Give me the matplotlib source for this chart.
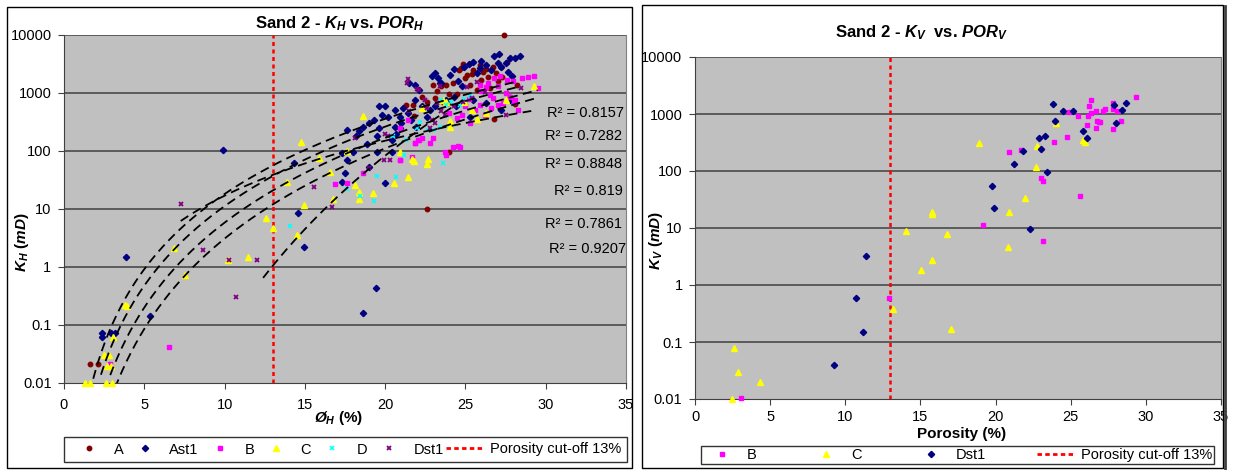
import numpy as np
import matplotlib
matplotlib.use('Agg')
import matplotlib.pyplot as plt
from matplotlib.lines import Line2D
from matplotlib.patches import Rectangle
from matplotlib.ticker import FixedLocator, FixedFormatter, NullLocator

plt.rcParams['font.family'] = 'Liberation Sans'
plt.rcParams['mathtext.fontset'] = 'custom'
plt.rcParams['mathtext.rm'] = 'Liberation Sans:bold'
plt.rcParams['mathtext.it'] = 'Liberation Sans:bold:italic'
plt.rcParams['mathtext.bf'] = 'Liberation Sans:bold'

# ---------------- left chart: K_H vs POR_H ----------------
a_x = [1.6, 2.1, 21.3, 21.8, 22.3, 22.6, 22.6, 23.0, 23.1, 23.5, 23.6, 23.8, 23.9, 24.0, 24.2,
       24.45, 24.6, 24.7, 24.86, 25.0, 25.1, 25.3, 25.5, 25.7, 25.9, 26.0, 26.1, 26.3, 26.5, 26.7,
       26.8, 26.9, 27.0, 27.2, 27.3, 27.4, 27.6, 27.8, 28.1, 28.2, 24.0, 21.75, 23.2, 25.4, 26.4]
a_k = [0.021, 0.021, 620, 400, 850, 700, 10.2, 1380, 820, 1300, 700, 1380, 680, 98, 1500,
       980, 2500, 2700, 3160, 1800, 2050, 1380, 2500, 1120, 3000, 1660, 2300, 2570, 1200, 2800,
       360, 2200, 1600, 2800, 1900, 10000, 3460, 850, 650, 1350, 950, 620, 1100, 2100, 1900]

ast_x = [2.34, 2.34, 2.93, 3.18, 3.87, 5.34, 9.9, 14.3, 14.6, 14.95, 17.3, 17.5, 18.6, 19.4, 20.0,
         17.3, 17.6, 18.2, 18.4, 18.6, 19.0, 19.3, 19.5, 19.6, 20.0, 20.2, 20.4, 20.6, 20.9, 21.1,
         21.4, 21.6, 21.85, 22.1, 21.5, 21.85, 23.1, 23.3, 23.45, 24.05, 24.55, 24.9, 25.5, 25.9, 26.3,
         26.8, 27.1, 27.2, 27.5, 27.65, 27.8, 28.4, 25.5, 25.3, 26.3, 27.2, 27.8, 19.0, 19.5, 17.6,
         19.6, 20.6, 20.4, 21.9, 22.6, 22.8, 23.1, 23.8, 24.3, 24.4,
         22.9, 23.4, 24.3, 24.8, 25.2, 25.7, 26.0, 26.6, 27.0, 27.9, 28.1, 21.0, 20.7, 18.9, 18.0,
         19.8, 20.9, 22.3]
ast_k = [0.073, 0.063, 0.073, 0.073, 1.5, 0.145, 105, 62, 8.5, 2.2, 29, 41, 0.16, 0.43, 28,
         91, 71, 178, 218, 263, 302, 347, 178, 245, 589, 390, 155, 513, 390, 550,
         447, 347, 760, 1120, 1480, 1400, 2190, 1780, 1480, 2040, 1580, 2820, 3470, 2690, 3020,
         4270, 4790, 2820, 3240, 2340, 3980, 4370, 760, 390, 660, 510, 760, 54, 98, 229,
         589, 263, 98, 263, 390, 513, 589, 760, 870, 589,
         2000, 1500, 2600, 1300, 3200, 2200, 3600, 2500, 3300, 2000, 4000, 300, 200, 130, 95,
         420, 250, 600]

b_x = [2.88, 6.53, 16.9, 17.65, 18.6, 20.9, 21.85, 21.7, 26.8, 27.15, 27.6, 27.96, 28.5, 28.9, 29.3,
       29.5, 25.9, 26.3, 26.5, 26.7, 27.0, 25.9, 25.6, 26.2, 26.6, 27.35, 27.8, 28.1, 28.3, 24.45,
       24.8, 25.3, 23.0, 22.3, 22.05, 20.9, 21.4, 21.85, 24.2, 24.65, 23.7, 23.8, 20.9, 24.55, 22.8,
       22.1, 25.2, 26.0, 27.0, 27.5, 28.0, 26.4, 25.0, 24.0]
b_k = [0.021, 0.042, 27, 28, 42, 70, 135, 80, 1820, 1950, 1660, 1620, 1820, 1900, 1950,
       1230, 1380, 1290, 930, 830, 620, 620, 510, 420, 550, 680, 870, 760, 510, 370,
       420, 300, 166, 166, 155, 250, 340, 138, 117, 117, 98, 85, 71, 120, 135,
       155, 800, 1100, 1300, 1000, 700, 1500, 600, 450]

c_x = [1.28, 1.6, 2.59, 3.0, 2.5, 2.83, 2.68, 2.93, 3.08, 3.82, 6.87, 7.56, 10.2, 11.45, 12.6,
       13.0, 13.9, 14.75, 14.5, 14.95, 15.9, 16.55, 16.75, 17.6, 18.35, 18.4, 18.15, 18.65, 19.26, 20.57,
       20.9, 21.4, 21.65, 21.8, 22.6, 22.7, 22.3, 23.6, 23.8, 24.05, 24.05, 24.9, 25.7, 26.3, 29.25,
       27.5, 25.4, 3.9]
c_k = [0.01, 0.01, 0.01, 0.01, 0.031, 0.031, 0.02, 0.02, 0.063, 0.22, 2.1, 0.74, 1.3, 1.5, 6.9,
       4.7, 29, 141, 3.6, 11.8, 76, 43, 15, 102, 15, 20, 26, 400, 19, 28,
       96, 36, 72, 66, 60, 74, 550, 760, 710, 263, 324, 710, 363, 450, 1320,
       760, 510, 0.21]

d_x = [14.1, 17.65, 18.45, 19.3, 19.5, 20.7, 21.2, 23.6, 21.3, 22.7, 23.0, 23.4, 23.8, 24.1, 23.5,
       24.65, 22.2, 24.9, 25.3, 22.0, 20.5]
d_k = [5.0, 22, 17, 13.5, 37, 35, 85, 61, 155, 230, 230, 263, 617, 710, 760,
       617, 320, 800, 900, 250, 180]

dst_x = [7.27, 8.67, 10.7, 12.0, 10.3, 15.57, 16.7, 18.1, 19.0, 19.9, 20.3, 21.4, 21.35, 22.0, 22.5,
         23.4, 27.5, 28.45, 22.1, 23.2, 22.6, 23.5, 22.9, 23.1, 23.7, 20.2, 20.0, 25.1, 25.7, 26.2,
         24.85, 25.4, 21.5, 22.8, 24.3]
dst_k = [12, 2.0, 0.30, 1.3, 1.3, 23.5, 10.7, 166, 50, 69, 71, 1740, 1480, 1150, 760,
         1320, 415, 1200, 1120, 660, 550, 480, 340, 300, 420, 178, 195, 1290, 1550, 1050,
         710, 810, 480, 250, 600]

trend_lo = [1.6, 2.3, 2.88, 1.28, 12.4, 7.27]
trend_x0 = [1.75, 2.14, 2.7, 3.3, 12.4, 7.3]
trend_k0 = [0.01, 0.01, 0.01, 0.01, 0.65, 6.3]
trend_x1 = [28.3, 28.4, 29.5, 29.3, 25.0, 29.1]
trend_k1 = [1600, 1300, 1120, 800, 800, 490]

r2_text = ['0.8157', '0.7282', '0.8848', '0.819', '0.7861', '0.9207']
r2_x = [30.05, 29.95, 29.95, 30.5, 29.95, 30.2]
r2_k = [450, 182, 60, 20.4, 5.5, 2.05]

# ---------------- right chart: K_V vs POR_V ----------------
vb_x = [3.03, 12.9, 19.16, 20.9, 21.7, 23.05, 23.16, 23.16, 23.86, 24.78, 24.9, 25.46, 25.64, 26.06, 26.16,
        26.2, 26.32, 26.35, 26.68, 26.68, 26.76, 26.9, 26.97, 27.18, 27.28, 27.83, 27.83, 27.83, 28.07, 28.33,
        29.37]
vb_k = [0.0105, 0.6, 11.2, 219, 229, 74, 66, 5.8, 324, 389, 1070, 933, 37, 646, 930,
        1380, 1050, 1740, 575, 1150, 741, 720, 720, 1150, 1200, 550, 1550, 1200, 1120, 760,
        1950]

vc_x = [2.48, 2.61, 2.87, 4.31, 13.16, 14.02, 15.07, 15.8, 15.8, 15.8, 16.74, 17.02, 18.93, 20.8, 20.91,
        21.96, 22.7, 22.77, 24.05, 25.8, 25.95]
vc_k = [0.01, 0.079, 0.03, 0.02, 0.38, 8.9, 1.8, 19, 17.8, 2.8, 7.9, 0.17, 309, 4.7, 19,
        33, 118, 280, 690, 356, 325]

vd_x = [9.22, 10.68, 11.2, 11.38, 19.74, 19.9, 21.23, 21.8, 22.3, 22.9, 23.0, 23.29, 23.42, 23.8, 23.94,
        24.5, 25.14, 25.82, 26.1, 27.9, 28.0, 28.4, 28.67]
vd_k = [0.04, 0.58, 0.15, 3.2, 55, 22.6, 135, 223, 9.8, 373, 244, 414, 98, 1520, 745,
        1150, 1150, 513, 373, 1410, 695, 1175, 1580]

cutoff = 13
yt = [0.01, 0.1, 1, 10, 100, 1000, 10000]
yt_labels = ['0.01', '0.1', '1', '10', '100', '1000', '10000']

W, H = 1235, 470
fig = plt.figure(figsize=(W / 100, H / 100), dpi=100)


def fx(px):
    return px / W


def fy(py):
    return 1 - py / H


ax1 = fig.add_axes([fx(64), fy(383), fx(626) - fx(64), fy(35) - fy(383)])
ax2 = fig.add_axes([fx(695), fy(399), fx(1221) - fx(695), fy(57) - fy(399)])


def style(ax, xpad):
    ax.set_facecolor('#C0C0C0')
    ax.set_yscale('log')
    ax.set_xlim(0, 35)
    ax.set_ylim(0.01, 10000)
    ax.yaxis.set_major_locator(FixedLocator(yt))
    ax.yaxis.set_major_formatter(FixedFormatter(yt_labels))
    ax.yaxis.set_minor_locator(NullLocator())
    ax.set_xticks(range(0, 36, 5))
    for y in yt[1:]:
        ax.axhline(y, color='#404040', lw=1.1, zorder=1)
    ax.spines['top'].set_visible(False)
    ax.spines['right'].set_color('#808080')
    ax.spines['left'].set_color('#404040')
    ax.spines['bottom'].set_color('#404040')
    ax.tick_params(axis='y', direction='out', length=4, color='#404040', labelsize=10.5, pad=5)
    ax.tick_params(axis='x', direction='out', length=4, color='#404040', labelsize=10.5, pad=xpad)
    ax.axvline(cutoff, color='red', ls=(0, (1.6, 1.4)), lw=1.8, zorder=3)


style(ax1, 7)
style(ax2, 4)

ms = 3.2
ax1.plot(a_x, a_k, ls='none', marker='o', color='#800000', ms=ms, clip_on=False, zorder=4)
ax1.plot(ast_x, ast_k, ls='none', marker='D', color='#000080', ms=ms, clip_on=False, zorder=4)
ax1.plot(b_x, b_k, ls='none', marker='s', color='#FF00FF', ms=ms, clip_on=False, zorder=4)
ax1.plot(c_x, c_k, ls='none', marker='^', color='#FFFF00', ms=ms + 0.6, clip_on=False, zorder=4)
ax1.plot(d_x, d_k, ls='none', marker='x', color='#00FFFF', ms=ms, mew=1.1, clip_on=False, zorder=4)
ax1.plot(dst_x, dst_k, ls='none', marker='x', color='#800080', ms=ms, mew=1.3, clip_on=False, zorder=4)

for lo, x0, k0, x1, k1 in zip(trend_lo, trend_x0, trend_k0, trend_x1, trend_k1):
    b = np.log10(k1 / k0) / np.log10(x1 / x0)
    xs = np.linspace(lo, x1, 300)
    ax1.plot(xs, k0 * (xs / x0) ** b, color='black', ls=(0, (5, 3)), lw=1.3, zorder=5)

for t, x, k in zip(r2_text, r2_x, r2_k):
    ax1.text(x, k, 'R² = ' + t, fontsize=10.5, ha='left', va='center', zorder=6)

ax2.plot(vb_x, vb_k, ls='none', marker='s', color='#FF00FF', ms=ms, clip_on=False, zorder=4)
ax2.plot(vc_x, vc_k, ls='none', marker='^', color='#FFFF00', ms=ms + 0.6, clip_on=False, zorder=4)
ax2.plot(vd_x, vd_k, ls='none', marker='D', color='#000080', ms=ms, clip_on=False, zorder=4)

# titles and axis labels
fig.text(fx(340), fy(24), r'Sand 2 - $K_H$ vs. $POR_H$', ha='center', va='center',
         fontsize=12, fontweight='bold')
fig.text(fx(922), fy(33), r'Sand 2 - $K_V$  vs. $POR_V$', ha='center', va='center',
         fontsize=12, fontweight='bold')
fig.text(fx(22), fy(242), r'$K_H\ (mD)$', rotation=90, ha='center', va='center', fontsize=11)
fig.text(fx(656), fy(240), r'$K_V\ (mD)$', rotation=90, ha='center', va='center', fontsize=11)
fig.text(fx(339), fy(418), r'$Ø_H$ (%)', ha='center', va='center', fontsize=11, fontweight='bold')
fig.text(fx(962), fy(434), 'Porosity (%)', ha='center', va='center', fontsize=11, fontweight='bold')

# legends
cut_handle = Line2D([], [], color='red', ls=(0, (1.6, 1.2)), lw=2)
h1 = [Line2D([], [], ls='none', marker='o', color='#800000', ms=ms),
      Line2D([], [], ls='none', marker='D', color='#000080', ms=ms),
      Line2D([], [], ls='none', marker='s', color='#FF00FF', ms=ms),
      Line2D([], [], ls='none', marker='^', color='#FFFF00', ms=ms + 0.6),
      Line2D([], [], ls='none', marker='x', color='#00FFFF', ms=ms, mew=1.1),
      Line2D([], [], ls='none', marker='x', color='#800080', ms=ms, mew=1.3),
      cut_handle]
l1 = ['A', 'Ast1', 'B', 'C', 'D', 'Dst1', 'Porosity cut-off 13%']
leg1 = fig.legend(h1, l1, loc='center', ncol=7, mode='expand',
                  bbox_to_anchor=(fx(64), fy(464), fx(627) - fx(64), fy(435) - fy(464)),
                  frameon=True, fancybox=False, edgecolor='black', fontsize=10.5,
                  handlelength=2.6, handletextpad=0.4, columnspacing=0.5, borderpad=0.4,
                  borderaxespad=0)
leg1.get_frame().set_linewidth(1.0)

h2 = [Line2D([], [], ls='none', marker='s', color='#FF00FF', ms=ms),
      Line2D([], [], ls='none', marker='^', color='#FFFF00', ms=ms + 0.6),
      Line2D([], [], ls='none', marker='D', color='#000080', ms=ms),
      cut_handle]
l2 = ['B', 'C', 'Dst1', 'Porosity cut-off 13%']
leg2 = fig.legend(h2, l2, loc='center', ncol=4, mode='expand',
                  bbox_to_anchor=(fx(701), fy(464), fx(1214) - fx(701), fy(446) - fy(464)),
                  frameon=True, fancybox=False, edgecolor='black', fontsize=10.5,
                  handlelength=2.6, handletextpad=0.4, columnspacing=0.5, borderpad=0.15,
                  borderaxespad=0)
leg2.get_frame().set_linewidth(1.0)

# chart borders
fig.add_artist(Rectangle((fx(7), fy(468)), fx(632) - fx(7), fy(7) - fy(468),
                         transform=fig.transFigure, fill=False, ec='black', lw=1))
fig.add_artist(Rectangle((fx(642), fy(468)), fx(1223) - fx(642), fy(5) - fy(468),
                         transform=fig.transFigure, fill=False, ec='black', lw=1))
fig.add_artist(Line2D([fx(1224.5), fx(1224.5)], [fy(6), fy(469)], transform=fig.transFigure,
                      color='#404040', lw=2))

fig.savefig('out.png', dpi=100)
